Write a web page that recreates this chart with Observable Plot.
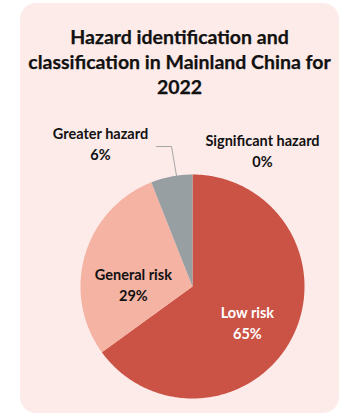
<!DOCTYPE html>
<html>
<head>
<meta charset="utf-8">
<script src="https://cdn.jsdelivr.net/npm/d3@7"></script>
<script src="https://cdn.jsdelivr.net/npm/@observablehq/plot@0.6"></script>
<style>
  html, body { margin: 0; padding: 0; background: #ffffff; }
  body { width: 345px; height: 414px; position: relative; overflow: hidden; font-family: Lato, "Open Sans", sans-serif; }
  #card { position: absolute; left: 20px; top: 3px; width: 319px; height: 410px; background: #fdebe9; border-radius: 16px; overflow: hidden; }
  #title { position: absolute; left: 0; top: 21px; width: 319px; text-align: center; font-weight: 700; font-size: 19.5px; line-height: 25px; color: #111111; -webkit-text-stroke: 0.25px #111111; }
  #chart { position: absolute; left: 0; top: 100px; }
</style>
</head>
<body>
<div id="card">
  <div id="title">Hazard identification and<br>classification in Mainland China for<br>2022</div>
  <div id="chart"></div>
</div>
<script>
const categories = ["Low risk", "General risk", "Greater hazard", "Significant hazard"];
const values = [65, 29, 6, 0];
const percentLabels = ["65%", "29%", "6%", "0%"];
const colors = ["#cb5346", "#f4b3a3", "#979fa3", "#7a7a7a"];

// layout (pixels) — styling only
const W = 319, H = 310, R = 112;
const cx = 172, cy = 183; // centre inside svg
const labelLayout = {
  "Low risk":          {r: 0.55, dx: 0,  dy: 7,  fill: "#ffffff", outside: false},
  "General risk":      {r: 0.55, dx: 0,  dy: 14, fill: "#111111", outside: false},
  "Greater hazard":    {px: -92, py: -144, fill: "#111111", outside: true},
  "Significant hazard":{px: 70,  py: -137, fill: "#111111", outside: true}
};

const data = categories.map((c, i) => ({category: c, value: values[i], label: percentLabels[i], color: colors[i]}));
const pie = d3.pie().sort(null).value(d => d.value)(data);

// polygon points for each slice (in units of radius, y up)
const slicePts = [];
for (const a of pie) {
  if (a.endAngle - a.startAngle <= 0) continue;
  slicePts.push({category: a.data.category, x: 0, y: 0});
  const n = Math.max(4, Math.ceil((a.endAngle - a.startAngle) / 0.01));
  for (let k = 0; k <= n; k++) {
    const t = a.startAngle + (a.endAngle - a.startAngle) * k / n;
    slicePts.push({category: a.data.category, x: Math.sin(t), y: Math.cos(t)});
  }
  slicePts.push({category: a.data.category, x: 0, y: 0});
}

const labels = pie.map(a => {
  const L = labelLayout[a.data.category];
  const mid = (a.startAngle + a.endAngle) / 2;
  let x, y;
  if (L.outside) { x = L.px / R; y = -L.py / R; }
  else { x = L.r * Math.sin(mid) + L.dx / R; y = L.r * Math.cos(mid) - L.dy / R; }
  return {category: a.data.category, text: a.data.category + "\n" + a.data.label, x, y, fill: L.fill};
});

// leader line for "Greater hazard"
const gh = pie.find(a => a.data.category === "Greater hazard");
const ghMid = (gh.startAngle + gh.endAngle) / 2 + 0.045;
const leader = [
  {x: -36 / R, y: 140 / R},
  {x: -21 / R, y: 140 / R},
  {x: Math.sin(ghMid), y: Math.cos(ghMid)}
];

const chart = Plot.plot({
  width: W,
  height: H,
  margin: 0,
  x: {domain: [-cx / R, (W - cx) / R], axis: null},
  y: {domain: [-(H - cy) / R, cy / R], axis: null},
  color: {domain: categories, range: colors},
  style: {background: "transparent", overflow: "visible"},
  marks: [
    Plot.line(slicePts, {x: "x", y: "y", z: "category", fill: "category", stroke: "none", curve: "linear"}),
    Plot.line(leader, {x: "x", y: "y", stroke: "#a6a6a6", strokeWidth: 1}),
    Plot.text(labels, {
      x: "x", y: "y", text: "text", fill: "fill",
      fontWeight: 700, fontSize: 14.5, lineHeight: 1.45,
      fontFamily: "Lato, 'Open Sans', sans-serif",
      textAnchor: "middle"
    })
  ]
});
document.getElementById("chart").appendChild(chart);
</script>
</body>
</html>
